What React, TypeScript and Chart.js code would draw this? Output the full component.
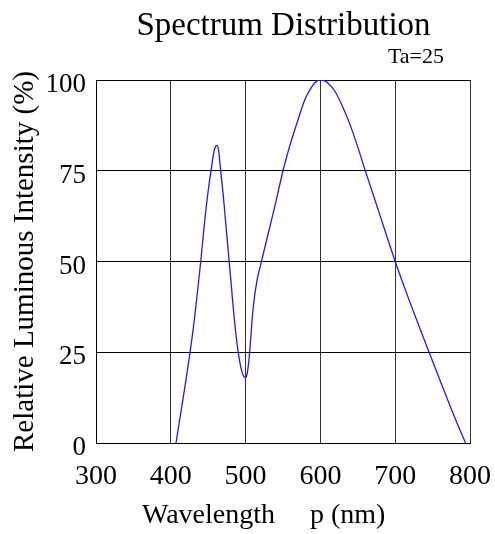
import React, { useEffect, useRef } from "react";
import { Chart, registerables } from "chart.js";

Chart.register(...registerables);

const wavelengths = [
  407, 410, 420, 430, 440, 445, 450, 454, 457, 460, 462, 464, 466.7, 470, 475, 480, 485, 490, 494,
  497, 499.5, 502, 505, 510, 515, 520, 530, 540, 550, 560, 570, 580, 590, 595, 600, 605, 610, 620,
  630, 640, 650, 660, 670, 680, 690, 700, 710, 720, 740, 760, 780, 794,
];
const intensity = [
  0, 4, 17, 31.5, 50, 60.5, 69.5, 75.3, 79.5, 81.8, 82, 80.5, 75, 68.5, 57, 45.5, 34, 25.2, 20.5,
  18.5, 18, 19, 24, 37, 44.5, 49, 57.5, 66, 75, 82.5, 89, 95, 98.6, 99.7, 100, 99.8, 99.2, 96.7,
  92.5, 87.5, 81.5, 75, 68.8, 62.5, 56.2, 50, 44.2, 38.6, 27.8, 17.2, 6.8, 0,
];
const xTicks = [300, 400, 500, 600, 700, 800];
const yTicks = [0, 25, 50, 75, 100];

const titleText = "Spectrum Distribution";
const subText = "Ta=25";
const yTitle = "Relative Luminous Intensity (%)";
const xTitleA = "Wavelength";
const xTitleB = "p (nm)";

const FONT = "'Liberation Serif', 'Times New Roman', serif";

const textPlugin = {
  id: "textPlugin",
  afterDraw(chart: any) {
    const ctx = chart.ctx;
    const area = chart.chartArea;
    ctx.save();
    ctx.fillStyle = "#000";
    ctx.textBaseline = "alphabetic";
    ctx.font = `33px ${FONT}`;
    ctx.textAlign = "center";
    ctx.fillText(titleText, 283.5, 35);
    ctx.font = `22px ${FONT}`;
    ctx.textAlign = "right";
    ctx.fillText(subText, 444, 63);
    ctx.font = `28px ${FONT}`;
    ctx.textAlign = "left";
    ctx.fillText(xTitleA, 142, 522.5);
    ctx.fillText(xTitleB, 310, 522.5);
    ctx.save();
    ctx.translate(32.5, (area.top + area.bottom) / 2);
    ctx.rotate(-Math.PI / 2);
    ctx.font = `29px ${FONT}`;
    ctx.textAlign = "center";
    ctx.fillText(yTitle, 0, 0);
    ctx.restore();
    ctx.restore();
  },
};

export default function App() {
  const ref = useRef<HTMLCanvasElement | null>(null);
  useEffect(() => {
    if (!ref.current) return;
    const chart = new Chart(ref.current, {
      type: "line",
      data: {
        datasets: [
          {
            data: wavelengths.map((x, i) => ({ x, y: intensity[i] })),
            borderColor: "#1a1aff",
            borderWidth: 1.3,
            pointRadius: 0,
            cubicInterpolationMode: "monotone",
            fill: false,
          },
        ],
      },
      options: {
        animation: false,
        responsive: false,
        devicePixelRatio: 1,
        layout: { padding: { top: 80, right: 25, left: 0, bottom: 0 } },
        plugins: { legend: { display: false }, tooltip: { enabled: false }, title: { display: false } },
        scales: {
          x: {
            type: "linear",
            min: 300,
            max: 800,
            afterBuildTicks: (s: any) => {
              s.ticks = xTicks.map((v) => ({ value: v }));
            },
            afterFit: (s: any) => {
              s.height = 91;
              s.paddingLeft = 0;
              s.paddingRight = 0;
            },
            ticks: {
              color: "#000",
              font: { family: FONT, size: 28 },
              padding: 17,
              maxRotation: 0,
              autoSkip: false,
            },
            grid: { color: "#333", lineWidth: 1, drawTicks: false },
            border: { color: "#000", width: 1 },
          },
          y: {
            min: 0,
            max: 100,
            afterBuildTicks: (s: any) => {
              s.ticks = yTicks.map((v) => ({ value: v }));
            },
            afterFit: (s: any) => {
              s.width = 96;
              s.paddingTop = 0;
              s.paddingBottom = 0;
            },
            ticks: {
              color: "#000",
              font: { family: FONT, size: 27 },
              padding: 10,
              labelOffset: 5,
              autoSkip: false,
            },
            grid: { color: "#000", lineWidth: 1, drawTicks: false },
            border: { color: "#000", width: 1 },
          },
        },
      },
      plugins: [textPlugin],
    } as any);
    return () => chart.destroy();
  }, []);
  return (
    <div style={{ position: "fixed", left: 0, top: 0, width: 495, height: 534, background: "#fff" }}>
      <canvas ref={ref} width={495} height={534} style={{ width: 495, height: 534, display: "block" }} />
    </div>
  );
}
